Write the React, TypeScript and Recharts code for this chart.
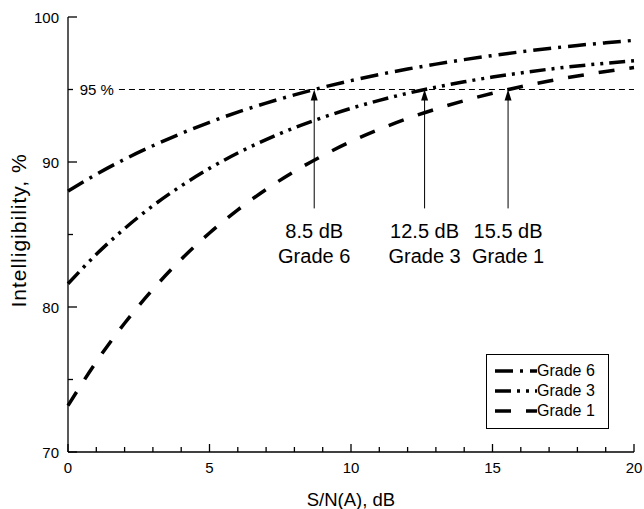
import React from "react";
import { LineChart, Line, XAxis, YAxis, ReferenceLine, Legend } from "recharts";

// S/N(A) in dB, one point per dB
const snr = [0, 1, 2, 3, 4, 5, 6, 7, 8, 9, 10, 11, 12, 13, 14, 15, 16, 17, 18, 19, 20];

// intelligibility %
const grade6 = [88.0, 89.15, 90.19, 91.12, 91.97, 92.74, 93.44, 94.06, 94.63, 95.15, 95.61, 96.03, 96.41, 96.75, 97.06, 97.34, 97.6, 97.83, 98.04, 98.22, 98.39];
const grade3 = [81.6, 83.63, 85.41, 86.98, 88.35, 89.56, 90.62, 91.54, 92.36, 93.07, 93.7, 94.25, 94.74, 95.16, 95.53, 95.86, 96.14, 96.4, 96.62, 96.81, 96.98];
const grade1 = [73.2, 76.22, 78.88, 81.22, 83.29, 85.1, 86.7, 88.11, 89.35, 90.44, 91.41, 92.25, 93.0, 93.65, 94.23, 94.74, 95.19, 95.59, 95.93, 96.24, 96.51];

const seriesNames = ["Grade 6", "Grade 3", "Grade 1"];
const seriesKeys = ["g6", "g3", "g1"];

const xTicks = [0, 1, 2, 3, 4, 5, 6, 7, 8, 9, 10, 11, 12, 13, 14, 15, 16, 17, 18, 19, 20];
const yTicks = [70, 75, 80, 85, 90, 95, 100];

// 95 % criterion line and the arrows that mark where each grade reaches it
const criterion = 95;
const criterionStart = 1.8;
const arrowSnr = [8.7, 12.6, 15.55];
const arrowDb = ["8.5 dB", "12.5 dB", "15.5 dB"];
const arrowBase = 86.8;

const FONT = '"Liberation Sans", Arial, Helvetica, sans-serif';
const dashes: Record<string, string> = {
    g6: "18 7 3 7",
    g3: "16 6 3 6 3 6",
    g1: "16 15",
};

const data = snr.map((x, i) => ({ snr: x, g6: grade6[i], g3: grade3[i], g1: grade1[i] }));

function BottomTick({ x, y, payload }: any) {
    const major = payload.value % 5 === 0;
    return (
        <g>
            <line x1={x} x2={x} y1={y} y2={y - (major ? 8 : 5)} stroke="#000" strokeWidth={1.3} />
            {major && (
                <text x={x} y={y + 21} textAnchor="middle" fontSize={15} fontFamily={FONT} fill="#000">
                    {payload.value}
                </text>
            )}
        </g>
    );
}

function TopTick({ x, y, payload }: any) {
    const major = payload.value % 5 === 0;
    return <line x1={x} x2={x} y1={y} y2={y + (major ? 8 : 5)} stroke="#000" strokeWidth={1.3} />;
}

function LeftTick({ x, y, payload }: any) {
    const major = payload.value % 10 === 0;
    return (
        <g>
            <line x1={x} x2={x + (major ? 9 : 5)} y1={y} y2={y} stroke="#000" strokeWidth={1.3} />
            {major && (
                <text x={x - 9} y={y + 5.5} textAnchor="end" fontSize={15} fontFamily={FONT} fill="#000">
                    {payload.value}
                </text>
            )}
        </g>
    );
}

function RightTick({ x, y, payload }: any) {
    const major = payload.value % 10 === 0;
    return <line x1={x} x2={x - (major ? 9 : 5)} y1={y} y2={y} stroke="#000" strokeWidth={1.3} />;
}

// vertical arrow pointing up to the criterion line
function ArrowShape(props: any) {
    const { x1, y1, x2, y2 } = props;
    const tipY = Math.min(y1, y2);
    const baseY = Math.max(y1, y2);
    return (
        <g>
            <line x1={x1} x2={x2} y1={baseY} y2={tipY + 6} stroke="#000" strokeWidth={1} />
            <polygon points={`${x1},${tipY} ${x1 - 3.5},${tipY + 11} ${x1 + 3.5},${tipY + 11}`} fill="#000" />
        </g>
    );
}

function LegendBox() {
    return (
        <div
            style={{
                width: 123,
                height: 75,
                boxSizing: "border-box",
                border: "1.5px solid #000",
                background: "#fff",
                paddingTop: 6,
                paddingLeft: 8,
                fontFamily: FONT,
                fontSize: 16,
                color: "#000",
            }}
        >
            {seriesNames.map((name, i) => (
                <div key={name} style={{ display: "flex", alignItems: "center", height: 20 }}>
                    <svg width={42} height={10}>
                        <line x1={0} x2={42} y1={5} y2={5} stroke="#000" strokeWidth={3.5} strokeDasharray={dashes[seriesKeys[i]]} />
                    </svg>
                    <span style={{ lineHeight: "20px" }}>{name}</span>
                </div>
            ))}
        </div>
    );
}

export default function App() {
    return (
        <div style={{ position: "absolute", left: 0, top: 0, width: 644, height: 509, background: "#fff" }}>
            <LineChart width={644} height={509} data={data} margin={{ top: 17, right: 10, left: 0, bottom: 0 }}>
                <XAxis
                    dataKey="snr"
                    type="number"
                    domain={[0, 20]}
                    ticks={xTicks}
                    interval={0}
                    tickSize={0}
                    tickMargin={0}
                    tick={<BottomTick />}
                    tickLine={false}
                    height={57}
                    axisLine={{ stroke: "#000", strokeWidth: 1.3 }}
                    label={(p: any) => (
                        <text
                            x={p.viewBox.x + p.viewBox.width / 2}
                            y={p.viewBox.y + 54}
                            textAnchor="middle"
                            fontSize={18.5}
                            fontFamily={FONT}
                            fill="#000"
                        >
                            S/N(A), dB
                        </text>
                    )}
                />
                <XAxis
                    xAxisId="top"
                    orientation="top"
                    type="number"
                    domain={[0, 20]}
                    allowDataOverflow
                    ticks={xTicks}
                    interval={0}
                    tickSize={0}
                    tickMargin={0}
                    tick={<TopTick />}
                    tickLine={false}
                    height={0}
                    axisLine={{ stroke: "#000", strokeWidth: 1.3 }}
                />
                <YAxis
                    type="number"
                    domain={[70, 100]}
                    ticks={yTicks}
                    interval={0}
                    tickSize={0}
                    tickMargin={0}
                    tick={<LeftTick />}
                    tickLine={false}
                    width={68}
                    axisLine={{ stroke: "#000", strokeWidth: 1.3 }}
                    label={(p: any) => {
                        const cx = 26;
                        const cy = p.viewBox.y + p.viewBox.height / 2 - 4;
                        return (
                            <text
                                x={cx}
                                y={cy}
                                transform={`rotate(-90, ${cx}, ${cy})`}
                                textAnchor="middle"
                                fontSize={21}
                                letterSpacing={1}
                                fontFamily={FONT}
                                fill="#000"
                            >
                                Intelligibility, %
                            </text>
                        );
                    }}
                />
                <YAxis
                    yAxisId="right"
                    orientation="right"
                    type="number"
                    domain={[70, 100]}
                    allowDataOverflow
                    ticks={yTicks}
                    interval={0}
                    tickSize={0}
                    tickMargin={0}
                    tick={<RightTick />}
                    tickLine={false}
                    width={0}
                    axisLine={{ stroke: "#000", strokeWidth: 1.3 }}
                />

                <ReferenceLine
                    segment={[
                        { x: criterionStart, y: criterion },
                        { x: 20, y: criterion },
                    ]}
                    stroke="#000"
                    strokeWidth={1}
                    strokeDasharray="6 4"
                    label={(p: any) => (
                        <text
                            x={p.viewBox.x - 5}
                            y={p.viewBox.y + 5.5}
                            textAnchor="end"
                            fontSize={15}
                            fontFamily={FONT}
                            fill="#000"
                        >
                            {criterion} %
                        </text>
                    )}
                />

                {seriesKeys.map((key) => (
                    <Line
                        key={key}
                        dataKey={key}
                        type="monotone"
                        stroke="#000"
                        strokeWidth={3.5}
                        strokeDasharray={dashes[key]}
                        dot={false}
                        activeDot={false}
                        isAnimationActive={false}
                    />
                ))}

                {arrowSnr.map((xa, i) => (
                    <ReferenceLine
                        key={`arrow-${i}`}
                        segment={[
                            { x: xa, y: arrowBase },
                            { x: xa, y: criterion },
                        ]}
                        stroke="#000"
                        shape={ArrowShape}
                        label={(p: any) => {
                            const cx = p.viewBox.x + (p.viewBox.width || 0) / 2;
                            const by = p.viewBox.y + p.viewBox.height;
                            return (
                                <g>
                                    <text x={cx} y={by + 30} textAnchor="middle" fontSize={20} fontFamily={FONT} fill="#000">
                                        {arrowDb[i]}
                                    </text>
                                    <text x={cx} y={by + 55} textAnchor="middle" fontSize={20} fontFamily={FONT} fill="#000">
                                        {seriesNames[i]}
                                    </text>
                                </g>
                            );
                        }}
                    />
                ))}

                <Legend
                    layout="vertical"
                    align="center"
                    verticalAlign="middle"
                    wrapperStyle={{ left: 486, top: 354, width: 123, height: 75 }}
                    content={() => <LegendBox />}
                />
            </LineChart>
        </div>
    );
}
